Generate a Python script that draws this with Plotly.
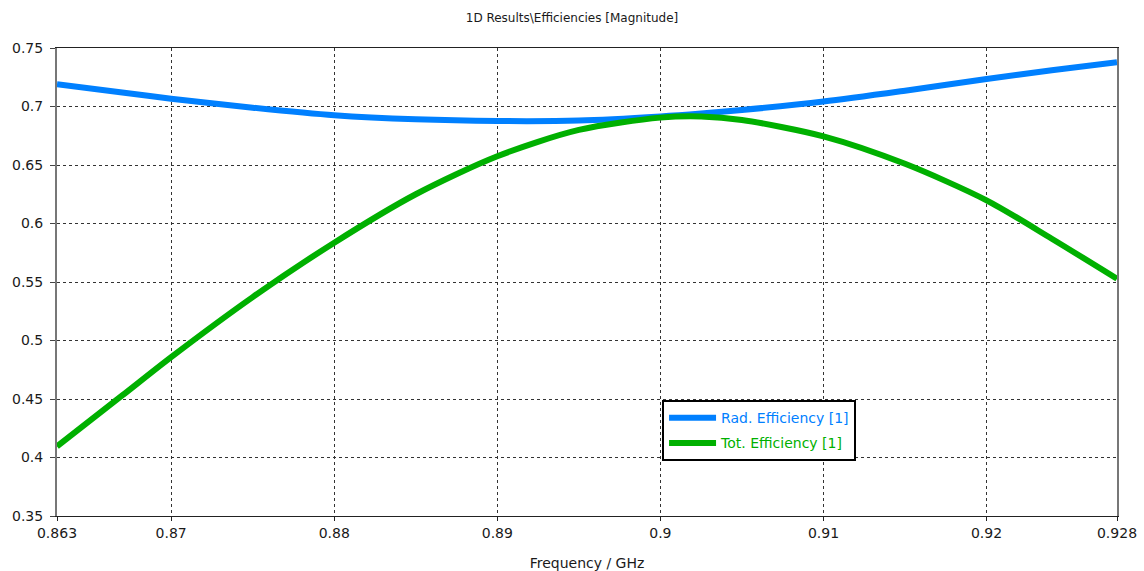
import plotly.graph_objects as go

# ---- data ----
freq_ghz = [0.863, 0.867, 0.870, 0.875, 0.880, 0.885, 0.890, 0.895, 0.900,
            0.9025, 0.905, 0.910, 0.915, 0.920, 0.924, 0.928]
rad_eff = [0.719, 0.712, 0.7067, 0.6990, 0.6925, 0.6890, 0.6876, 0.6880, 0.6915,
           0.6940, 0.6970, 0.7042, 0.7135, 0.7235, 0.7310, 0.7378]
tot_eff = [0.4095, 0.453, 0.4858, 0.5371, 0.5836, 0.6250, 0.6575, 0.6800, 0.6905,
           0.6915, 0.6885, 0.6745, 0.6510, 0.6198, 0.5870, 0.5528]

x_tickvals = [0.863, 0.87, 0.88, 0.89, 0.9, 0.91, 0.92, 0.928]
x_ticktext = ["0.863", "0.87", "0.88", "0.89", "0.9", "0.91", "0.92", "0.928"]
y_tickvals = [0.35, 0.4, 0.45, 0.5, 0.55, 0.6, 0.65, 0.7, 0.75]
y_ticktext = ["0.35", "0.4", "0.45", "0.5", "0.55", "0.6", "0.65", "0.7", "0.75"]

series_names = ["Rad. Efficiency [1]", "Tot. Efficiency [1]"]
series_colors = ["#0080FF", "#00B000"]

FONT = "DejaVu Sans"

fig = go.Figure()
for name, vals, col in zip(series_names, [rad_eff, tot_eff], series_colors):
    fig.add_trace(go.Scatter(
        x=freq_ghz, y=vals, mode="lines",
        line=dict(color=col, width=6, shape="spline", smoothing=0.8),
        name=f"<span style='color:{col}'>{name}</span>",
        legendgroup=name,
    ))

fig.update_layout(
    width=1144, height=571,
    margin=dict(l=57, r=27, t=48, b=55, autoexpand=False),
    paper_bgcolor="white", plot_bgcolor="white",
    font=dict(family=FONT, size=14, color="#1a1a1a"),
    title=dict(text="1D Results\\Efficiencies [Magnitude]", x=0.5, xanchor="center",
               y=0.968, yanchor="middle", font=dict(family=FONT, size=12, color="#1a1a1a")),
    showlegend=True,
    legend=dict(
        x=0.5708, y=0.2477, xanchor="left", yanchor="top",
        bgcolor="white", bordercolor="black", borderwidth=2,
        font=dict(family=FONT, size=14),
        traceorder="grouped", tracegroupgap=4, itemwidth=47,
    ),
)

fig.update_xaxes(
    range=[0.863, 0.928], tickvals=x_tickvals, ticktext=x_ticktext,
    showgrid=True, gridcolor="#333333", gridwidth=1, griddash="3px,3px",
    zeroline=False, showline=True, linecolor="#222222", linewidth=1, mirror=True,
    ticks="outside", ticklen=4, tickcolor="#222222", automargin=False,
    tickfont=dict(family=FONT, size=14, color="#1a1a1a"),
    title=dict(text="Frequency / GHz", font=dict(family=FONT, size=14, color="#1a1a1a"), standoff=18),
)
fig.update_yaxes(
    range=[0.35, 0.75], tickvals=y_tickvals, ticktext=y_ticktext,
    showgrid=True, gridcolor="#333333", gridwidth=1, griddash="3px,3px",
    zeroline=False, showline=True, linecolor="#777777", linewidth=2, mirror=True,
    ticks="outside", ticklen=5, tickcolor="#444444", automargin=False,
    ticklabelstandoff=4,
    tickfont=dict(family=FONT, size=14, color="#1a1a1a"),
)

fig.write_html("out.html")
